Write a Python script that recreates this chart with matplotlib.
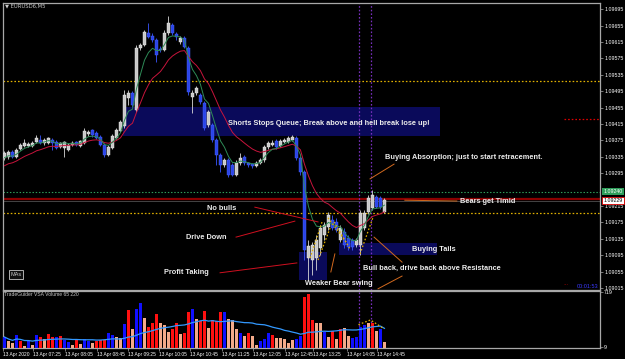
import numpy as np
import pandas as pd
import matplotlib
matplotlib.use("Agg")
import matplotlib.pyplot as plt
from matplotlib.patches import Rectangle

plt.rcParams['font.family'] = ['Liberation Sans', 'DejaVu Sans']

# EURUSD6 M5 bars, 13 Apr 2020 ----------------------------------------------------------
opens = [1.09332, 1.09334, 1.09347, 1.09334, 1.09354, 1.09361, 1.09361, 1.09361, 1.09371, 1.09376,
         1.09369, 1.09369, 1.09376, 1.09371, 1.09359, 1.09356, 1.09351, 1.09364, 1.09371, 1.09361,
         1.09369, 1.09390, 1.09400, 1.09393, 1.09383, 1.09364, 1.09339, 1.09356, 1.09381, 1.09398,
         1.09410, 1.09478, 1.09490, 1.09449, 1.09600, 1.09607, 1.09637, 1.09629, 1.09620, 1.09598,
         1.09595, 1.09637, 1.09656, 1.09634, 1.09615, 1.09624, 1.09600, 1.09481, 1.09490, 1.09485,
         1.09466, 1.09412, 1.09412, 1.09376, 1.09339, 1.09315, 1.09327, 1.09315, 1.09291, 1.09320,
         1.09334, 1.09320, 1.09317, 1.09312, 1.09320, 1.09327, 1.09359, 1.09364, 1.09373, 1.09361,
         1.09371, 1.09371, 1.09376, 1.09381, 1.09332, 1.09298, 1.09088, 1.09083, 1.09088, 1.09113,
         1.09144, 1.09164, 1.09181, 1.09176, 1.09132, 1.09152, 1.09137, 1.09132, 1.09120, 1.09120,
         1.09161, 1.09200, 1.09210, 1.09237, 1.09234, 1.09200]
closes = [1.09344, 1.09347, 1.09334, 1.09351, 1.09364, 1.09369, 1.09366, 1.09369, 1.09381, 1.09369,
          1.09376, 1.09381, 1.09369, 1.09356, 1.09369, 1.09371, 1.09364, 1.09369, 1.09364, 1.09373,
          1.09398, 1.09395, 1.09388, 1.09381, 1.09364, 1.09339, 1.09359, 1.09386, 1.09400, 1.09420,
          1.09485, 1.09490, 1.09461, 1.09600, 1.09607, 1.09639, 1.09627, 1.09620, 1.09583, 1.09595,
          1.09637, 1.09661, 1.09637, 1.09627, 1.09624, 1.09602, 1.09493, 1.09490, 1.09503, 1.09468,
          1.09405, 1.09444, 1.09376, 1.09339, 1.09315, 1.09327, 1.09291, 1.09291, 1.09320, 1.09332,
          1.09320, 1.09315, 1.09312, 1.09320, 1.09327, 1.09359, 1.09369, 1.09369, 1.09359, 1.09373,
          1.09376, 1.09381, 1.09383, 1.09332, 1.09298, 1.09108, 1.09117, 1.09120, 1.09132, 1.09161,
          1.09169, 1.09193, 1.09161, 1.09156, 1.09161, 1.09120, 1.09115, 1.09115, 1.09132, 1.09198,
          1.09198, 1.09234, 1.09242, 1.09213, 1.09213, 1.09230]
highs = [1.09349, 1.09351, 1.09351, 1.09356, 1.09369, 1.09378, 1.09371, 1.09373, 1.09388, 1.09388,
         1.09381, 1.09383, 1.09381, 1.09376, 1.09371, 1.09373, 1.09369, 1.09373, 1.09373, 1.09376,
         1.09405, 1.09400, 1.09403, 1.09398, 1.09388, 1.09369, 1.09364, 1.09390, 1.09405, 1.09425,
         1.09498, 1.09498, 1.09495, 1.09607, 1.09612, 1.09644, 1.09661, 1.09637, 1.09624, 1.09605,
         1.09644, 1.09678, 1.09661, 1.09639, 1.09629, 1.09629, 1.09605, 1.09498, 1.09507, 1.09490,
         1.09471, 1.09449, 1.09417, 1.09381, 1.09344, 1.09332, 1.09332, 1.09320, 1.09327, 1.09344,
         1.09339, 1.09322, 1.09320, 1.09325, 1.09332, 1.09364, 1.09373, 1.09376, 1.09378, 1.09378,
         1.09381, 1.09386, 1.09388, 1.09386, 1.09337, 1.09303, 1.09132, 1.09127, 1.09144, 1.09169,
         1.09176, 1.09200, 1.09193, 1.09186, 1.09169, 1.09161, 1.09144, 1.09137, 1.09137, 1.09205,
         1.09205, 1.09242, 1.09254, 1.09242, 1.09239, 1.09234]
lows = [1.09327, 1.09330, 1.09332, 1.09332, 1.09351, 1.09359, 1.09359, 1.09359, 1.09369, 1.09366,
        1.09364, 1.09366, 1.09351, 1.09354, 1.09356, 1.09334, 1.09349, 1.09361, 1.09361, 1.09359,
        1.09366, 1.09386, 1.09383, 1.09378, 1.09361, 1.09334, 1.09337, 1.09354, 1.09378, 1.09395,
        1.09405, 1.09461, 1.09456, 1.09444, 1.09595, 1.09605, 1.09624, 1.09615, 1.09566, 1.09590,
        1.09593, 1.09632, 1.09632, 1.09620, 1.09610, 1.09600, 1.09485, 1.09442, 1.09485, 1.09464,
        1.09400, 1.09408, 1.09371, 1.09315, 1.09298, 1.09310, 1.09286, 1.09288, 1.09288, 1.09315,
        1.09315, 1.09310, 1.09308, 1.09310, 1.09317, 1.09322, 1.09354, 1.09361, 1.09354, 1.09359,
        1.09369, 1.09369, 1.09373, 1.09327, 1.09291, 1.09083, 1.09035, 1.09047, 1.09059, 1.09096,
        1.09132, 1.09156, 1.09156, 1.09152, 1.09127, 1.09113, 1.09108, 1.09108, 1.09115, 1.09096,
        1.09156, 1.09195, 1.09205, 1.09210, 1.09208, 1.09198]

# TradeGuider VSA volume: value and bar colour (r = red, b = blue, p = peach)
volume = [141, 90, 64, 167, 90, 26, 90, 40, 167, 141, 116, 180, 141, 141, 154, 103, 77, 39, 116, 51,
          116, 90, 64, 90, 103, 103, 193, 167, 141, 128, 308, 488, 244, 501, 578, 385, 270, 321, 437, 321,
          295, 205, 244, 321, 180, 193, 462, 501, 372, 347, 475, 257, 360, 347, 462, 462, 372, 360, 244, 193,
          154, 193, 154, 39, 90, 116, 193, 167, 128, 128, 116, 64, 103, 116, 154, 655, 693, 360, 321, 321,
          205, 141, 218, 116, 244, 257, 154, 128, 141, 270, 295, 321, 321, 218, 244, 77]
vol_col = list("bppbrpbpbrprrbrbbprp" "bbprrrbbppbrpbbprrrp"
               "pprrprrbprrprrrbpppb" "prppbbbrpppppbbrrrpp"
               "bprprppbbbbprp")

# time axis labels (position in bars)
time_labels = ['13 Apr 2020', '13 Apr 07:25', '13 Apr 08:05', '13 Apr 08:45', '13 Apr 09:25',
               '13 Apr 10:05', '13 Apr 10:45', '13 Apr 11:25', '13 Apr 12:05', '13 Apr 12:45',
               '13 Apr 13:25', '13 Apr 14:05', '13 Apr 14:45']
time_pos = [-0.3, 7.1, 15.1, 23.1, 30.9, 38.6, 46.4, 54.4, 62.1, 70.1, 77.1, 85.6, 93.1]
price_ticks = [1.09695, 1.09655, 1.09615, 1.09575, 1.09535, 1.09495, 1.09455, 1.09415, 1.09375,
               1.09335, 1.09295, 1.09215, 1.09175, 1.09135, 1.09095, 1.09055, 1.09015]

# chart objects --------------------------------------------------------------------------
ask_price, bid_price = 1.09250, 1.09232
ask_text, bid_text = '1.09240', '1.09229'
level_top = 1.09520       # yellow dotted
level_low = 1.09198       # yellow dotted
level_red = 1.09428       # short red dotted at the right
vlines_at = [88.75, 91.75]

# rectangles: x0, x1, price low, price high
boxes = [(29.7, 109.0, 1.09386, 1.09456),
         (73.7, 80.7, 1.09035, 1.09103),
         (83.6, 108.2, 1.09096, 1.09125)]

notes = [("Shorts Stops Queue; Break above and hell break lose up!", 81.0, 1.09417, 'center'),
         ("Buying Absorption; just to start retracement.", 95.2, 1.09332, 'left'),
         ("Bears get Timid", 114.0, 1.09225, 'left'),
         ("No bulls", 50.6, 1.09210, 'left'),
         ("Drive Down", 45.3, 1.09137, 'left'),
         ("Buying Tails", 101.9, 1.09108, 'left'),
         ("Profit Taking", 39.9, 1.09052, 'left'),
         ("Bull back, drive back above Resistance", 89.6, 1.09064, 'left'),
         ("Weaker Bear swing", 75.1, 1.09025, 'left')]

pointers = [((62.6, 78.4), (1.09212, 1.09176), '#d01020'),
            ((57.9, 72.6), (1.09139, 1.09178), '#d01020'),
            ((53.9, 73.1), (1.09052, 1.09076), '#d01020'),
            ((91.4, 97.4), (1.09281, 1.09317), '#d2691e'),
            ((92.4, 99.4), (1.09139, 1.09078), '#d2691e'),
            ((81.6, 82.6), (1.09054, 1.09098), '#d2691e'),
            ((93.4, 99.4), (1.09013, 1.09044), '#d2691e'),
            ((100.1, 113.1), (1.09229, 1.09227), '#d2691e')]

swings = [((76.4, 79.4), (1.09088, 1.09176)),
          ((78.4, 81.4), (1.09083, 1.09161)),
          ((80.9, 85.4), (1.09186, 1.09127)),
          ((82.4, 86.4), (1.09176, 1.09110)),
          ((88.9, 92.1), (1.09098, 1.09186))]

# ---------------------------------------------------------------------------------------
def ema(values, n, start):
    a = 2.0 / (n + 1)
    out, r = [], start
    for v in values:
        r = r + a * (v - r)
        out.append(r)
    return out

ma_fast = ema(closes, 5, 1.09327)
ma_slow = ema(closes, 13, 1.09308)
vol_avg = pd.Series(volume).rolling(20, min_periods=1).mean()

W, H = 625, 359
fig = plt.figure(figsize=(W / 100, H / 100), dpi=100, facecolor='black')
ax = fig.add_axes([3 / W, 1 - 290 / H, 597 / W, 287 / H], facecolor='black')
axv = fig.add_axes([3 / W, 1 - 348 / H, 597 / W, 57 / H], facecolor='black')

n = len(closes)
x = np.arange(n)
xlim = (-0.375, 148.9)
frame = '#a8a8a8'

for a in (ax, axv):
    a.set_xlim(*xlim)
    for s in a.spines.values():
        s.set_color(frame)
        s.set_linewidth(0.9)
    a.yaxis.tick_right()
    a.tick_params(axis='y', colors=frame, labelcolor='white', labelsize=3.8, length=2, width=0.5, pad=1)

# rectangles
for x0, x1, y0, y1 in boxes:
    ax.add_patch(Rectangle((x0, y0), x1 - x0, y1 - y0, facecolor='#0a0a5a', edgecolor='none', zorder=1))

# horizontal levels
dots = (0, (1.3, 1.6))
ax.axhline(level_top, color='#e0b000', ls=dots, lw=0.9, zorder=2)
ax.axhline(level_low, color='#e0b000', ls=dots, lw=0.9, zorder=2)
ax.axhline(ask_price, color='#2e9e5b', ls=dots, lw=0.8, zorder=2)
ax.axhline(bid_price, color='#8b0000', lw=1.6, zorder=2)
ax.axhline(bid_price - 0.00006, color='#505050', lw=0.6, zorder=2)
ax.plot([140, 148.9], [level_red, level_red], color='#e00000', ls=dots, lw=0.9, zorder=2)
for v in vlines_at:
    ax.axvline(v, color='#7a30c0', ls=dots, lw=0.9, zorder=2)
    axv.axvline(v, color='#7a30c0', ls=dots, lw=0.9, zorder=2)

# candles
o = np.array(opens); c = np.array(closes); h = np.array(highs); l = np.array(lows)
up = c >= o
body_col = np.where(up, '#c8c8c8', '#2a44e8')
edge_col = np.where(up, '#f0f0f0', '#4c66ff')
ax.vlines(x, l, h, colors=np.where(up, '#d8d8d8', '#3a55ff'), lw=0.6, zorder=3)
body = np.maximum(np.abs(c - o), 0.000015)
ax.bar(x, body, bottom=np.minimum(o, c), width=0.62, color=body_col, edgecolor=edge_col, lw=0.3, zorder=3)

# moving averages
ax.plot(x, ma_slow, color='#c8143c', lw=0.7, zorder=4)
ax.plot(x, ma_fast, color='#2e8b57', lw=0.7, zorder=4)

# annotations
for txt, tx, ty, ha in notes:
    ax.text(tx, ty, txt, color='#ececec', fontsize=5.3, fontweight='bold', ha=ha, va='center', zorder=6)
for xs, ys, col in pointers:
    ax.plot(xs, ys, color=col, lw=0.7, zorder=5)
for xs, ys in swings:
    ax.plot(xs, ys, color='#e0b000', ls=dots, lw=0.9, zorder=5)

ax.set_ylim(1.09010, 1.09710)
ax.set_xticks([])
ax.set_yticks(price_ticks)
ax.set_yticklabels(['%.5f' % p for p in price_ticks])

# bid / ask price labels
ax.annotate(ask_text, xy=(1.006, ask_price), xycoords=('axes fraction', 'data'), fontsize=3.8,
            color='white', va='center', ha='left', annotation_clip=False, zorder=8,
            bbox=dict(boxstyle='square,pad=0.25', facecolor='#2e9e5b', edgecolor='none'))
ax.annotate(bid_text, xy=(1.006, bid_price - 0.00004), xycoords=('axes fraction', 'data'), fontsize=3.8,
            color='black', va='center', ha='left', annotation_clip=False, zorder=8,
            bbox=dict(boxstyle='square,pad=0.25', facecolor='white', edgecolor='#e00000', lw=0.6))

# volume panel --------------------------------------------------------------------------
cmap = {'r': '#ff1010', 'b': '#1010ff', 'p': '#f2aa8a'}
axv.bar(x, volume, width=0.6, color=[cmap[k] for k in vol_col], zorder=3)
axv.plot(x, vol_avg, color='#3399ff', lw=0.9, zorder=4)
axv.plot([88.5, 91.5, 94.5], [300, 360, 260], color='#e0b000', ls=dots, lw=0.9, zorder=5)
axv.set_ylim(0, 732)
axv.set_yticks([9, 719])
axv.set_yticklabels(['9', '719'])
axv.set_xticks(time_pos)
axv.set_xticklabels(time_labels, ha='left')
axv.tick_params(axis='x', colors=frame, labelcolor='white', labelsize=3.5, length=2, width=0.5, pad=1)

# window texts
fig.text(5 / W, 1 - 6 / H, '▼ EURUSD6,M5', color='#c8c8c8', fontsize=3.8, va='center', ha='left',
         family=['DejaVu Sans'])
fig.text(4 / W, 1 - 295 / H, 'TradeGuider VSA Volume 65 220', color='#c8c8c8', fontsize=3.6, va='center')
fig.text(16 / W, 1 - 274.5 / H, 'MAs', color='#c8c8c8', fontsize=4, ha='center', va='center',
         bbox=dict(boxstyle='square,pad=0.3', facecolor='#101010', edgecolor='#c8c8c8', lw=0.6))
fig.text(598 / W, 1 - 286 / H, '00:01:53', color='#3a3aff', fontsize=4, ha='right', va='center')
fig.text(563 / W, 1 - 285 / H, '···', color='#e00000', fontsize=4, ha='left', va='center')

fig.savefig('out.png', dpi=100, facecolor='black')
